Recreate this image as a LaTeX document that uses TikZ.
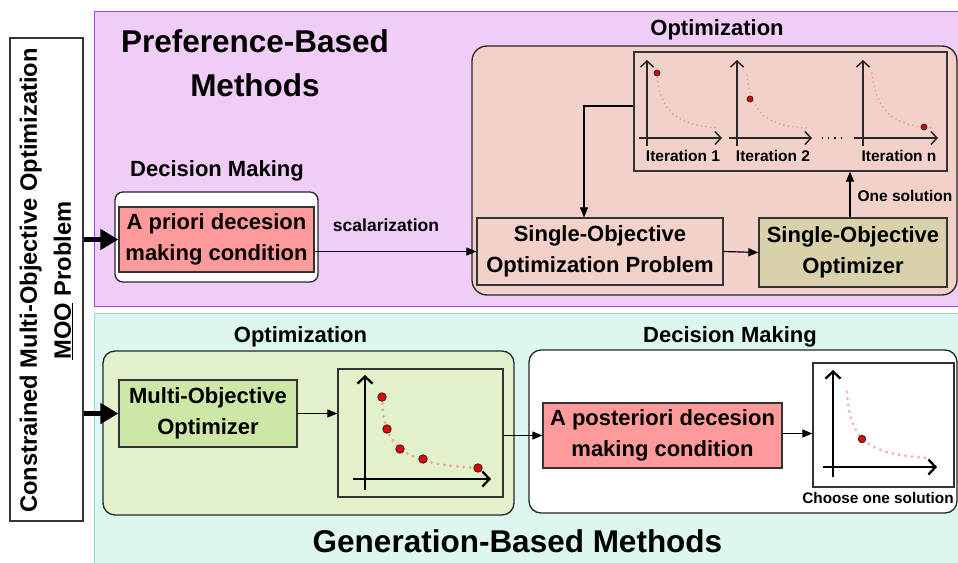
\documentclass[tikz,border=0pt]{standalone}
\usepackage{fontspec}
\setmainfont{Liberation Sans}
\usetikzlibrary{arrows.meta,calc}

\definecolor{pinkbg}{HTML}{F0CDF6}
\definecolor{pinkln}{HTML}{A346F2}
\definecolor{tealbg}{HTML}{DCF7F2}
\definecolor{tealln}{HTML}{84E0D0}
\definecolor{salmon}{HTML}{F2D1C9}
\definecolor{khaki}{HTML}{D9D1A9}
\definecolor{redbox}{HTML}{FF9A9A}
\definecolor{greenbg}{HTML}{E3F1CA}
\definecolor{greenbox}{HTML}{CDE8A6}
\definecolor{curvecol}{HTML}{F49A9A}
\definecolor{curvecolb}{HTML}{EBAC9A}
\definecolor{dotred}{HTML}{E60000}
\definecolor{edge}{HTML}{333333}

\tikzset{
  box/.style={draw=edge, line width=1.3pt, inner sep=0pt, align=center,
    font=\fontsize{22}{31}\selectfont\bfseries},
  container/.style={draw=black!85, line width=1.3pt, rounded corners=12pt, inner sep=0pt},
  lbl/.style={font=\fontsize{22}{26}\selectfont\bfseries, anchor=base, inner sep=0pt},
  biglbl/.style={font=\fontsize{31.5}{44}\selectfont\bfseries, anchor=base, inner sep=0pt},
  small/.style={font=\fontsize{15.5}{18}\selectfont\bfseries, anchor=base, inner sep=0pt},
  arr/.style={-{Triangle[length=10pt,width=8pt]}, line width=1.2pt, draw=black},
  bigarr/.style={-{Triangle[length=18pt,width=20pt]}, line width=5.5pt, draw=black},
  axis/.style={-{Straight Barb[length=6pt,width=13pt]}, line width=1.5pt, draw=black!85},
  axisb/.style={-{Straight Barb[length=7pt,width=15pt]}, line width=2.3pt, draw=black},
  curve/.style={draw=curvecol, line width=2pt, line cap=round, dash pattern=on 0pt off 4.5pt},
  curveb/.style={draw=curvecolb, line width=3.2pt, line cap=round, dash pattern=on 0pt off 6.5pt},
  sol/.style={circle, fill=dotred, draw=black!85, line width=0.8pt, inner sep=0pt, minimum size=#1},
  sol/.default=6pt
}

\begin{document}
\begin{tikzpicture}[x=1pt,y=-1pt]
\useasboundingbox (0,0) rectangle (958,562);

% background regions
\node[fill=pinkbg, draw=pinkln, line width=1.5pt, inner sep=0pt, anchor=north west,
  minimum width=880pt, minimum height=295pt] (pref) at (93.5,10.5) {};
\node[fill=tealbg, draw=tealln, line width=1.5pt, inner sep=0pt, anchor=north west,
  minimum width=880pt, minimum height=260pt] (gen) at (93.5,312.5) {};

% left problem box
\node[draw=edge, fill=white, line width=1.3pt, minimum width=73pt, minimum height=483pt, inner sep=0pt]
  (moo) at (46.5,279.5) {};
\node[rotate=90, align=center, font=\fontsize{23.7}{34}\selectfont\bfseries, inner sep=0pt]
  (mootext) at (46.5,280.5) {Constrained Multi-Objective Optimization\\\underline{MOO} Problem};

% ---------- Preference-based ----------
\node[biglbl, align=center] (preftitle) at (255,96) {Preference-Based\\Methods};

\node[lbl] (dm1) at (217,176) {Decision Making};
\node[container, fill=white, rounded corners=8pt, minimum width=203pt, minimum height=90pt]
  (apout) at (216.5,237) {};
\node[box, fill=redbox, minimum width=195pt, minimum height=65pt] (apin) at (216.5,239.5)
  {A priori decesion\\making condition};

\node[lbl] (opt1) at (717,35) {Optimization};
\node[container, fill=salmon, rounded corners=15pt, minimum width=485pt, minimum height=249pt]
  (topopt) at (714.5,170.5) {};
\node[box, fill=salmon, minimum width=313pt, minimum height=119pt] (iter) at (790.5,111.5) {};

% iteration plots
\draw[curve] (657,73) .. controls (660,115) and (680,125) .. (718,128);
\draw[axis] (647,146) -- (647,60);
\draw[axis] (639,138) -- (722,138);
\node[sol=6pt] (d1) at (657,73) {};
\node[small] (it1) at (683,161) {Iteration 1};

\draw[curve] (747,75) .. controls (752,118) and (770,126) .. (808,128);
\draw[axis] (737,146) -- (737,60);
\draw[axis] (729,138) -- (812,138);
\node[sol=6pt] (d2) at (750,99) {};
\node[small] (it2) at (773,161) {Iteration 2};

\draw[line width=1.2pt, dash pattern=on 1.2pt off 5pt] (822,138) -- (846,138);

\draw[curve] (872,73) .. controls (877,115) and (895,125) .. (932,128);
\draw[axis] (863,146) -- (863,60);
\draw[axis] (854,138) -- (938,138);
\node[sol=6pt] (d3) at (924,127) {};
\node[small] (itn) at (899,161) {Iteration n};

\node[box, fill=salmon, minimum width=246pt, minimum height=67pt] (soop) at (600,251.5)
  {Single-Objective\\Optimization Problem};
\node[box, fill=khaki, minimum width=188pt, minimum height=69pt] (soo) at (853,252.5)
  {Single-Objective\\Optimizer};

\draw[arr] (apin.east |- soop.west) -- (soop.west);
\node[font=\fontsize{17.5}{20}\selectfont\bfseries, anchor=base, inner sep=0pt] (scal) at (386,231) {scalarization};
\draw[arr] (soop.east) -- (soo.west);
\draw[arr] ([xshift=-3pt]soo.north) -- ([xshift=-3pt]soo.north |- iter.south);
\node[small] (onesol) at (905,201) {One solution};
\draw[arr] ([yshift=5.5pt]iter.west) -| ([xshift=-16pt]soop.north);

\draw[bigarr] (moo.east |- apin.west) -- (apin.west);

% ---------- Generation-based ----------
\node[lbl] (opt2) at (300.5,342) {Optimization};
\node[container, fill=greenbg, minimum width=411pt, minimum height=164pt] (gopt) at (308.5,433) {};
\node[box, fill=greenbox, minimum width=178pt, minimum height=67pt] (mob) at (208,413.5)
  {Multi-Objective\\Optimizer};
\node[box, fill=greenbg, minimum width=165pt, minimum height=128pt] (pf) at (420.5,433) {};
\draw[curveb] (382,397) .. controls (383,445) and (400,465) .. (480,468);
\draw[axisb] (365,490) -- (365,375);
\draw[axisb] (353,479) -- (491,479);
\node[sol=8.5pt] (p1) at (382,397) {};
\node[sol=8.5pt] (p2) at (387,429) {};
\node[sol=8.5pt] (p3) at (400,449) {};
\node[sol=8.5pt] (p4) at (423,459) {};
\node[sol=8.5pt] (p5) at (478,468) {};

\node[lbl] (dm2) at (730,342) {Decision Making};
\node[container, fill=white, minimum width=428pt, minimum height=163pt] (gdm) at (743,431.5) {};
\node[box, fill=redbox, minimum width=239pt, minimum height=65pt] (apost) at (662.5,435.5)
  {A posteriori decesion\\making condition};
\node[box, fill=white, minimum width=141pt, minimum height=124pt] (choice) at (883.5,425) {};
\draw[curveb, draw=curvecol!80] (847,392) .. controls (849,445) and (875,455) .. (930,458);
\draw[axisb] (833,477) -- (833,370);
\draw[axisb] (823,467) -- (937,467);
\node[sol=7.5pt] (c1) at (862,439) {};
\node[font=\fontsize{15.3}{18}\selectfont\bfseries, anchor=base, inner sep=0pt] (choose) at (878,503) {Choose one solution};

\draw[arr] (mob.east) -- (pf.west |- mob.east);
\draw[arr] (pf.east |- apost.west) -- (apost.west);
\draw[arr] ([yshift=2pt]apost.east) -- ([yshift=2pt]apost.east -| choice.west);

\draw[bigarr] (moo.east |- mob.west) -- (mob.west);

\node[biglbl] (gentitle) at (517.5,552) {Generation-Based Methods};
\end{tikzpicture}
\end{document}
